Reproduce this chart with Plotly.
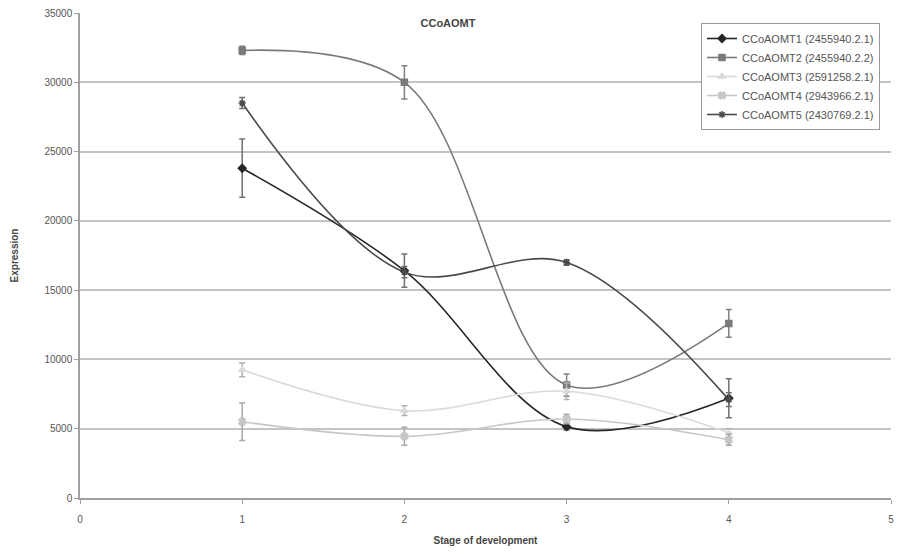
import plotly.graph_objects as go

stages = [1, 2, 3, 4]
x_ticks = [0, 1, 2, 3, 4, 5]
series_names = [
    "CCoAOMT1 (2455940.2.1)",
    "CCoAOMT2 (2455940.2.2)",
    "CCoAOMT3 (2591258.2.1)",
    "CCoAOMT4 (2943966.2.1)",
    "CCoAOMT5 (2430769.2.1)",
]
ccoaomt1 = [23800, 16400, 5150, 7200]
ccoaomt1_err = [2100, 1200, 250, 1400]
ccoaomt2 = [32300, 30000, 8150, 12600]
ccoaomt2_err = [300, 1200, 800, 1000]
ccoaomt3 = [9250, 6300, 7700, 4700]
ccoaomt3_err = [500, 350, 600, 300]
ccoaomt4 = [5500, 4450, 5700, 4200]
ccoaomt4_err = [1350, 650, 350, 400]
ccoaomt5 = [28500, 16300, 17000, 7100]
ccoaomt5_err = [400, 400, 200, 500]

values = [ccoaomt1, ccoaomt2, ccoaomt3, ccoaomt4, ccoaomt5]
errors = [ccoaomt1_err, ccoaomt2_err, ccoaomt3_err, ccoaomt4_err, ccoaomt5_err]
line_colors = ["#262626", "#7a7a7a", "#dadada", "#c6c6c6", "#4a4a4a"]
marker_symbols = ["diamond", "square", "triangle-up", "x", "asterisk-open"]
err_colors = ["#707070", "#808080", "#b0b0b0", "#a8a8a8", "#707070"]

# the page adds an 8px body margin, so the figure is shifted; margins compensate
W, H, OFF = 888, 538, 8
R = 5
PLOT_W = W - (80 - OFF) - R

fig = go.Figure()
for name, y, e, lc, ms, ec in zip(series_names, values, errors, line_colors, marker_symbols, err_colors):
    fig.add_trace(go.Scatter(
        x=stages, y=y, name=name, mode="lines+markers",
        line=dict(color=lc, width=1.6, shape="spline", smoothing=1),
        marker=dict(symbol=ms, size=6, color=lc, line=dict(color=lc, width=1.5)),
        error_y=dict(type="data", array=e, visible=True, color=ec, thickness=1.5, width=3),
    ))

fig.update_layout(
    width=W, height=H,
    margin=dict(l=80 - OFF, r=R, t=13 - OFF, b=48),
    paper_bgcolor="white", plot_bgcolor="white",
    font=dict(family="Liberation Sans, Arial, sans-serif", size=10, color="#444"),
    title=dict(text="<b>CCoAOMT</b>", x=(448 - OFF) / W, xref="container", xanchor="center",
               y=1 - (23 - OFF) / H, yref="container", yanchor="middle",
               font=dict(size=11, color="#444")),
    legend=dict(x=(701 - 80) / PLOT_W, y=(498 - 23) / 485, xanchor="left", yanchor="top",
                bgcolor="white", bordercolor="#999", borderwidth=1, itemwidth=30,
                font=dict(size=11, color="#555"), tracegroupgap=0),
    showlegend=True,
)
fig.update_xaxes(range=[0, 5], tickmode="array", tickvals=x_ticks, ticktext=[str(v) for v in x_ticks],
                 showgrid=False, showline=True, linecolor="#a0a0a0",
                 linewidth=1.5, ticks="outside", ticklen=4, tickcolor="#a0a0a0", ticklabelstandoff=7,
                 zeroline=False, automargin=False, ticklabeloverflow="allow",
                 tickfont=dict(size=10, color="#555"),
                 title=dict(text="<b>Stage of development</b>", font=dict(size=10, color="#444"), standoff=14))
fig.update_yaxes(range=[0, 35000], dtick=5000, tickformat="d", showgrid=True, gridcolor="#c4c4c4",
                 gridwidth=1.5, showline=True, linecolor="#a0a0a0", linewidth=1.5, ticks="outside",
                 ticklen=4, tickcolor="#a0a0a0", zeroline=False, automargin=False,
                 ticklabeloverflow="allow", tickfont=dict(size=10, color="#555"),
                 title=dict(text="<b>Expression</b>", font=dict(size=10, color="#444"), standoff=24))

fig.write_html("out.html")
